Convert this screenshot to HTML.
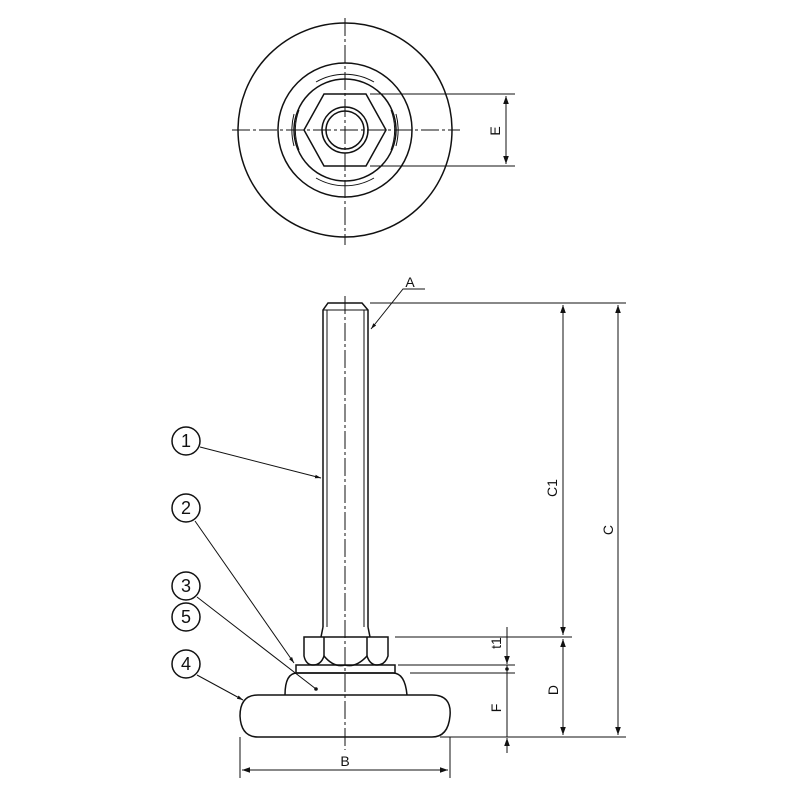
<!DOCTYPE html>
<html><head><meta charset="utf-8"><style>
html,body{margin:0;padding:0;background:#fff;}
svg text{font-family:"Liberation Sans",sans-serif;fill:#111;}
</style></head><body>
<svg width="800" height="800" viewBox="0 0 800 800" xmlns="http://www.w3.org/2000/svg">
<defs>
<marker id="ar" viewBox="0 0 10 10" refX="10" refY="5" markerWidth="8" markerHeight="8" orient="auto-start-reverse" markerUnits="userSpaceOnUse"><path d="M0,1.5 L10,5 L0,8.5 z" fill="#111"/></marker>
<marker id="as" viewBox="0 0 10 10" refX="10" refY="5" markerWidth="6" markerHeight="6" orient="auto" markerUnits="userSpaceOnUse"><path d="M0,2 L10,5 L0,8 z" fill="#111"/></marker>
</defs>
<g fill="none" stroke="#111" stroke-width="1.5">
<!-- top view -->
<circle cx="345" cy="130" r="107"/>
<circle cx="345" cy="130" r="67"/>
<circle cx="345" cy="130" r="51"/>
<circle cx="345" cy="130" r="23"/>
<circle cx="345" cy="130" r="19"/>
<polygon points="304,130 324,94 366,94 386,130 366,166 324,166"/>
<g stroke-width="1">
<path d="M316,82 A58,58 0 0 1 374,82"/>
<path d="M316,178 A58,58 0 0 0 374,178"/>
<path d="M299,110 A58,58 0 0 0 299,150"/>
<path d="M391,110 A58,58 0 0 1 391,150"/>
<path d="M294,114 A62,62 0 0 0 294,146"/>
<path d="M396,114 A62,62 0 0 1 396,146"/>
</g>
<g stroke-width="1" stroke-dasharray="18,3,3,3">
<line x1="345" y1="18" x2="345" y2="245"/>
<line x1="232" y1="130" x2="460" y2="130"/>
</g>
<g stroke-width="1">
<line x1="370" y1="94" x2="515" y2="94"/>
<line x1="370" y1="166" x2="515" y2="166"/>
<line x1="506" y1="96" x2="506" y2="164" marker-start="url(#ar)" marker-end="url(#ar)"/>
</g>
<!-- side view -->
<path d="M323,627 L323,310 L328,303 L362,303 L368,310 L368,627"/>
<line x1="327" y1="310" x2="327" y2="627" stroke-width="1"/>
<line x1="364" y1="310" x2="364" y2="627" stroke-width="1"/>
<line x1="323" y1="310" x2="368" y2="310" stroke-width="1"/>
<path d="M323,627 L321,637 M368,627 L370,637"/>
<path d="M304,637 L388,637 L388,656 Q385,665 377,665 Q370,665 367,656 Q356,668 345,665 Q334,668 324,656 Q321,665 313,665 Q306,665 304,656 Z"/>
<path d="M324,637 L324,656 M367,637 L367,656"/>
<rect x="296" y="665" width="99" height="8"/>
<path d="M285,695 Q285,673 297,673 L393,673 Q405,673 407,695"/>
<path d="M258,695 L432,695 Q452,695 450,716 Q448,737 432,737 L258,737 Q241,737 240,716 Q240,695 258,695 Z"/>
<line x1="345" y1="296" x2="345" y2="750" stroke-width="1" stroke-dasharray="18,3,3,3"/>
<!-- dimensions -->
<g stroke-width="1">
<line x1="370" y1="303" x2="626" y2="303"/>
<polyline points="425,289 403,289 371,329" marker-end="url(#as)"/>
<line x1="395" y1="637" x2="572" y2="637"/>
<line x1="398" y1="665" x2="515" y2="665"/>
<line x1="410" y1="673" x2="515" y2="673"/>
<line x1="440" y1="737" x2="626" y2="737"/>
<line x1="563" y1="305" x2="563" y2="635" marker-start="url(#ar)" marker-end="url(#ar)"/>
<line x1="563" y1="639" x2="563" y2="735" marker-start="url(#ar)" marker-end="url(#ar)"/>
<line x1="618" y1="305" x2="618" y2="735" marker-start="url(#ar)" marker-end="url(#ar)"/>
<line x1="507" y1="627" x2="507" y2="664" marker-end="url(#ar)"/>
<line x1="507" y1="665" x2="507" y2="737"/>
<line x1="507" y1="753" x2="507" y2="738" marker-end="url(#ar)"/>
<line x1="240" y1="737" x2="240" y2="778"/>
<line x1="450" y1="737" x2="450" y2="778"/>
<line x1="242" y1="770" x2="448" y2="770" marker-start="url(#ar)" marker-end="url(#ar)"/>
<!-- leaders -->
<line x1="200" y1="447" x2="321" y2="478" marker-end="url(#as)"/>
<line x1="195" y1="521" x2="294" y2="663" marker-end="url(#as)"/>
<line x1="197" y1="597" x2="316" y2="689"/>
<line x1="197" y1="675" x2="243" y2="700" marker-end="url(#as)"/>
</g>
<circle cx="186" cy="441" r="14"/>
<circle cx="186" cy="508" r="14"/>
<circle cx="186" cy="586" r="14"/>
<circle cx="186" cy="617" r="14"/>
<circle cx="186" cy="664" r="14"/>
</g>
<circle cx="316" cy="689" r="1.8" fill="#111"/>
<circle cx="507" cy="669" r="1.8" fill="#111"/>
<g font-size="18" text-anchor="middle">
<text x="186" y="447">1</text>
<text x="186" y="514">2</text>
<text x="186" y="592">3</text>
<text x="186" y="623">5</text>
<text x="186" y="670">4</text>
</g>
<g font-size="14" text-anchor="middle">
<text x="410" y="287">A</text>
<text x="345" y="766">B</text>
<text transform="translate(500,131) rotate(-90)">E</text>
<text transform="translate(557,488) rotate(-90)">C1</text>
<text transform="translate(613,530) rotate(-90)">C</text>
<text transform="translate(501,643) rotate(-90)">t1</text>
<text transform="translate(558,690) rotate(-90)">D</text>
<text transform="translate(501,708) rotate(-90)">F</text>
</g>
</svg>
</body></html>
